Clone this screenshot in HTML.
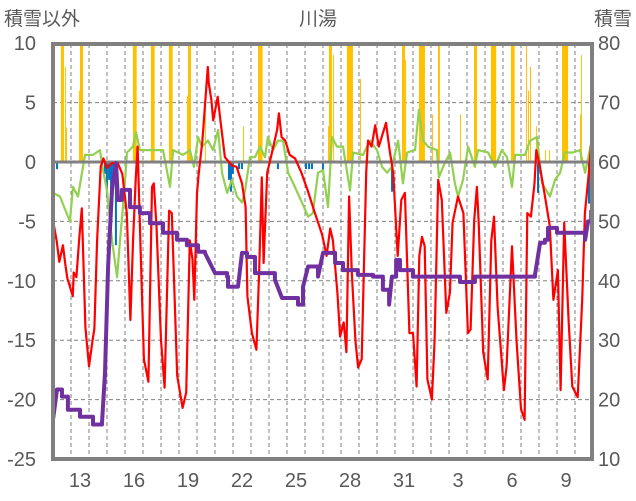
<!DOCTYPE html>
<html><head><meta charset="utf-8">
<style>
html,body{margin:0;padding:0;background:#fff;}
svg{display:block;font-family:"Liberation Sans","Noto Sans CJK JP",sans-serif;}
</style></head>
<body>
<svg id="chart" width="636" height="501" viewBox="0 0 636 501" xmlns="http://www.w3.org/2000/svg">
<rect x="0" y="0" width="636" height="501" fill="#fff"/>
<text x="318" y="25" font-size="19" fill="#595959" text-anchor="middle">川湯</text>
<text x="4" y="25" font-size="19" fill="#595959">積雪以外</text>
<text x="632" y="25" font-size="19" fill="#595959" text-anchor="end">積雪</text>
<g id="grid"></g>
<g id="bars"></g>
<g id="lines"></g>
<g id="axes"></g>
</svg>
<script>
// ---- data ----
const leftTicks = [10, 5, 0, -5, -10, -15, -20, -25];
const rightTicks = [80, 70, 60, 50, 40, 30, 20, 10];
const dayLabels = ["13","16","19","22","25","28","31","3","6","9"];
const dayLabelPos = [1, 4, 7, 10, 13, 16, 19, 22, 25, 28];

const precipDay = [0.44,0.67,0.72,1.44,1.5,4.44,5.44,6.44,7.44,7.5,8.44,10.56,11.39,15.28,15.33,15.56,16.33,17.06,19.39,19.56,20.33,21.06,21.39,21.44,22.61,23.39,24.33,25.44,26.28,26.39,26.5,26.83,27.33,27.56,28.28,29.28,29.33];
const precipHours = [4,1,1,1,4,5,5,5,1,4,1,1,6,1,4,1,8,1,4,1,8,1,1,1,1,4,7,5,1,1,1,1,1,1,8,1,1];
const precipVal = [12,8,2.9,6,12,12,12,12,5.6,12,5,3,12,3,12,9,12,7,12,8.6,12,4,12,10,4,12,12,12,12,6,8,3,1,1,12,4,9];

const meltDay = [0.17,2.83,2.94,3.06,3.17,3.28,3.44,9.72,9.83,9.94,10.28,10.44,12.44,14.0,14.17,14.33,14.94,18.78,26.89,29.72];
const meltVal = [-0.6,-1,-3,-1.5,-4,-2,-7,-1.5,-2.5,-1,-0.6,-0.6,-0.6,-0.6,-0.6,-0.6,-0.8,-2.5,-2.6,-3.5];

const tempDay = [0,0.2,0.35,0.55,0.7,0.8,1.1,1.15,1.3,1.45,1.6,1.8,2.0,2.2,2.3,2.45,2.65,2.8,3.0,3.25,3.6,3.85,4.1,4.3,4.45,4.6,4.7,4.85,5.05,5.3,5.5,5.6,5.75,6.0,6.2,6.45,6.6,6.9,7.2,7.4,7.6,7.75,7.85,8.0,8.1,8.3,8.6,8.65,8.8,8.9,9.15,9.3,9.55,9.95,10.2,10.5,10.7,10.8,11.05,11.3,11.45,11.6,11.7,11.9,12.15,12.45,12.55,12.7,12.9,13.15,13.45,13.8,14.15,14.55,14.95,15.2,15.4,15.55,15.8,15.95,16.15,16.3,16.45,16.6,16.8,16.95,17.15,17.4,17.5,17.7,17.9,18.1,18.5,18.7,18.9,19.15,19.35,19.55,19.8,20.0,20.2,20.35,20.5,20.65,20.8,21.05,21.2,21.4,21.6,21.85,22.05,22.2,22.5,22.8,23.05,23.2,23.4,23.55,23.65,23.9,24.15,24.35,24.5,24.7,25.05,25.2,25.5,25.75,26.0,26.2,26.35,26.55,26.75,26.85,27.05,27.3,27.6,27.8,28.05,28.2,28.4,28.65,28.85,29.15,29.4,29.55,29.8,29.9];
const tempVal = [-4.9,-6.6,-8.4,-7,-8.8,-9.8,-11.3,-9.3,-9.7,-6.6,-3.9,-13.9,-17.2,-15,-14,-6.6,-0.4,0.3,-0.5,-0.1,-0.1,-1,-4.3,-13.3,-6.5,-1.3,1.3,-6.5,-16.6,-18.5,-2.1,-1.8,-5.4,-15,-19,-4.1,-4.3,-18,-20.7,-19.4,-6.6,-8.2,-11.6,-2.6,-0.9,1.8,8,6.7,5.2,3.5,5.5,3.5,0.4,-0.3,-0.4,-1.8,-3.8,-11.3,-14.4,-15.8,-9.3,-1.3,-8.5,-0.9,0.7,2.7,4.1,2.1,1.8,0.6,0.3,-0.9,-2.4,-4.3,-6.1,-7.9,-5.6,-6.6,-11,-14.7,-13.5,-16,-2.9,-9.3,-15,-17.3,-16.6,-0.9,1.8,1.3,3.1,1.3,3.3,1,-0.9,-7.9,-3.2,-2.6,-14.4,-14.4,-18.9,-7.9,-6.3,-7.1,-18.3,-20,-15,-1.5,-3.2,-12.7,-11,-5.1,-2.9,-4.3,-14.4,-14.1,-4.9,-2.1,-5.1,-16,-18.3,-6.6,-4.6,-12.2,-19.2,-17.2,-7.1,-15,-20.8,-21.7,-4.3,-4.6,-1.8,1,-0.4,-2.6,-5.4,-11.6,-9.1,-19.2,-5.1,-13.5,-18.9,-19.8,-11.6,-4.3,-0.4,1.6];

const otherDay = [0,0.39,0.67,0.94,1.11,1.39,1.61,1.78,2.22,2.61,2.78,3.0,3.28,3.56,3.72,3.94,4.11,4.44,4.61,4.83,5.39,6.11,6.5,6.67,7.22,7.61,7.83,8.06,8.28,8.61,8.89,9.17,9.39,9.67,9.94,10.22,10.5,10.67,10.94,11.22,11.5,11.78,11.94,12.22,12.5,12.78,13.06,13.44,13.83,14.17,14.44,14.72,15.0,15.28,15.5,15.78,16.11,16.5,16.67,17.22,17.61,18.0,18.28,18.56,18.83,19.17,19.44,19.67,20.11,20.33,20.56,20.83,21.33,21.44,21.67,22.06,22.33,22.5,22.78,23.06,23.44,23.61,24.17,24.56,24.94,25.22,25.5,25.67,26.22,26.5,26.89,27.17,27.61,27.89,28.17,28.44,28.89,29.28,29.56,29.9];
const otherVal = [-2.6,-2.9,-4,-5,-2.1,-2.9,-0.9,0.6,0.6,1,-0.7,-2.4,-6.6,-9.7,-6.6,-2.9,0.8,1.3,2.5,1,1,1,-2.1,1,0.6,1,-0.4,2.1,1.3,1.8,1,2.7,-0.9,-2.6,-1.5,-2.9,-3.4,-2.4,0.4,0.4,1.3,0.4,2.1,1,1.8,1.8,-0.9,-2.1,-3.4,-4.6,-4.3,-0.9,-0.7,-3.8,2.1,1.3,1.3,-2.4,0.8,0.6,1.8,1,-0.4,-0.9,-0.4,1.8,-1.8,0.8,1,4.4,1.8,1.3,1,-1.3,-0.4,0.8,-1.8,-2.9,-1.5,1.3,-0.4,1,0.8,-0.4,1,0.4,-2.1,0.6,0.6,1.8,2.1,-1.8,-2.9,-1.5,-0.9,0.8,0.8,1,-0.9,1.6];

const snowDay = [0,0.22,0.5,0.83,1.5,2.22,2.72,2.89,3.06,3.28,3.5,3.61,3.83,4.28,4.83,5.39,6.11,6.89,7.44,8.06,8.44,9.0,9.67,9.72,10.28,10.5,10.78,11.22,12.33,12.72,13.61,13.89,14.17,14.72,15.0,15.28,15.67,16.11,16.67,16.94,17.78,18.33,18.67,18.83,19.06,19.28,19.94,20.0,22.44,22.61,23.17,23.44,26.78,27.06,27.33,27.5,27.89,28.0,29.39,29.56,29.72,29.9];
const snowDepth = [16.6,21.7,20.5,18.3,17.1,15.8,16.1,24.5,42.4,55.3,59.8,53.6,55.3,52.4,51.4,49.7,48.1,46.9,46,44.9,44.7,41.3,40.7,39,39,44.7,44,41.3,40.2,37.1,36,39,42.4,40.7,44.7,44.7,43,41.8,41.8,41,40.7,38.5,36,40.7,43.5,41.8,41.8,40.7,40.7,39.8,39.8,40.7,41,46.4,46.9,48.9,48.9,48.1,48.1,46.9,50,51.9];

// ---- geometry ----
const PL=53, PR=592, PT=44, PB=459;
const DAYPX = 18;
const xOf = t => PL + t*DAYPX;
const yL = v => 162 - v*11.88;
const yR = r => yL((r-60)/2);
const NS='http://www.w3.org/2000/svg';
function mk(tag, attrs, parent){const e=document.createElementNS(NS,tag);for(const k in attrs)e.setAttribute(k,attrs[k]);parent.appendChild(e);return e;}

const grid=document.getElementById('grid');
leftTicks.forEach(v=>{
  if(v===10||v===-25||v===0) return;
  const l=mk('line',{x1:PL,x2:PR,y1:yL(v),y2:yL(v),stroke:'#808080','stroke-width':1,'stroke-dasharray':'4,3'},grid);
  
  
});
for(let k=1;k<30;k++){
  const l=mk('line',{x1:xOf(k),x2:xOf(k),y1:PT,y2:PB,stroke:'#808080','stroke-width':1,'stroke-dasharray':'4,3'},grid);
  
  
}

const bars=document.getElementById('bars');
precipDay.forEach((t,i)=>{
  const v=Math.min(precipVal[i],10);
  const w=Math.max(precipHours[i]*DAYPX/24,1);
  const r=mk('rect',{x:xOf(t),y:yL(v),width:w,height:yL(0)-yL(v),fill:'#FFC000'},bars);
  
  
});
meltDay.forEach((t,i)=>{
  const r=mk('rect',{x:xOf(t),y:yL(0),width:2,height:yL(meltVal[i])-yL(0),fill:'#0070C0'},bars);
  
  
});

const lines=document.getElementById('lines');
function path(ts,vs,yf){let d='';ts.forEach((t,i)=>{d+=(i?'L':'M')+xOf(t).toFixed(1)+','+yf(vs[i]).toFixed(1);});return d;}
function stepPath(ts,vs,yf){let d='';ts.forEach((t,i)=>{
  const x=xOf(t).toFixed(1), y=yf(vs[i]).toFixed(1);
  if(!i){d+='M'+x+','+y;return;}
  const big=Math.abs(vs[i]-vs[i-1])>3;
  d+= big ? 'L'+x+','+y : 'H'+x+'V'+y;
});return d;}
const g=mk('path',{d:path(otherDay,otherVal,yL),fill:'none',stroke:'#92D050','stroke-width':2.2,'stroke-linejoin':'round'},lines);


const zl=mk('line',{x1:PL,x2:PR,y1:yL(0),y2:yL(0),stroke:'#808080','stroke-width':3},lines);


const rl=mk('path',{d:path(tempDay,tempVal,yL),fill:'none',stroke:'#FF0000','stroke-width':2.2,'stroke-linejoin':'round'},lines);


const pl=mk('path',{d:stepPath(snowDay,snowDepth,yR),fill:'none',stroke:'#7030A0','stroke-width':4,'stroke-linejoin':'round'},lines);



const axes=document.getElementById('axes');
const fr=mk('rect',{x:PL,y:PT,width:PR-PL,height:PB-PT,fill:'none',stroke:'#808080','stroke-width':4},axes);


leftTicks.forEach(v=>{
  const t=mk('text',{x:36,y:yL(v)+7,'font-size':20,fill:'#595959','text-anchor':'end'},axes);
  t.textContent=v;
  
  
});
rightTicks.forEach(r=>{
  const t=mk('text',{x:598,y:yR(r)+7,'font-size':20,fill:'#595959'},axes);
  t.textContent=r;
  
  
});
dayLabels.forEach((s,i)=>{
  const t=mk('text',{x:xOf(dayLabelPos[i]+0.5),y:487,'font-size':20,fill:'#595959','text-anchor':'middle'},axes);
  t.textContent=s;
  
  
});
</script>
</body></html>
